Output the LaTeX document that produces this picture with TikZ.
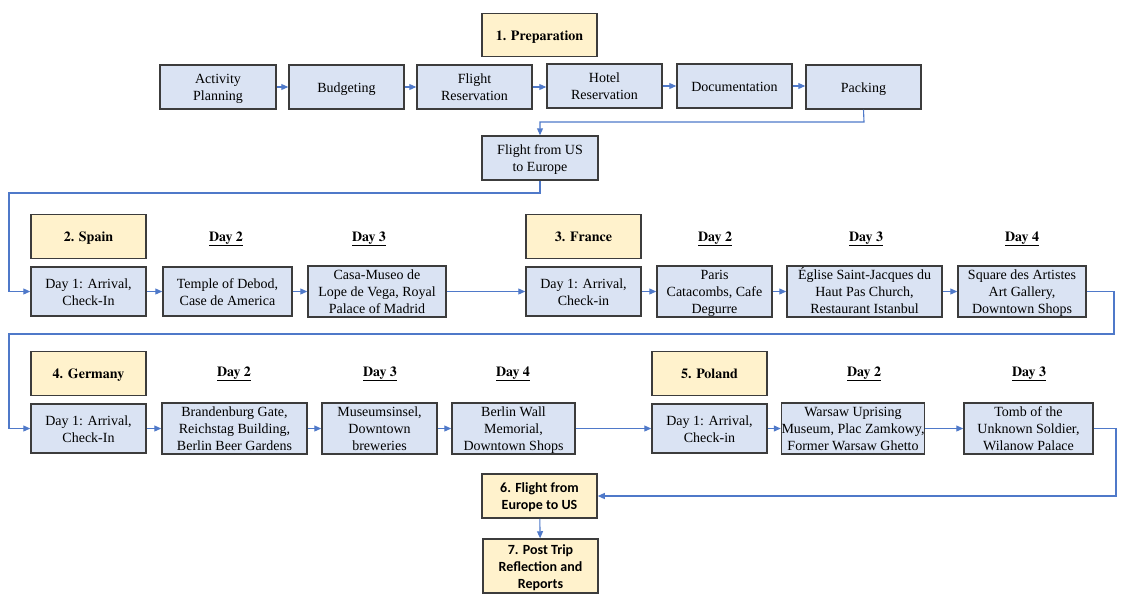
\documentclass[tikz,border=0pt]{standalone}
\usepackage{fontspec}
\setmainfont{Liberation Serif}
\newfontfamily\tb{texgyretermes-bold.otf}
\newfontfamily\calib{Carlito}
\usetikzlibrary{arrows.meta}
\definecolor{boxfill}{HTML}{DAE3F3}
\definecolor{headfill}{HTML}{FFF2CC}
\definecolor{edgecol}{HTML}{3C3C3C}
\definecolor{conncol}{HTML}{4F79C9}
\newcommand\mystrut{\rule[-3.5pt]{0pt}{17pt}}
\newcommand\tx[1]{\mystrut#1\mystrut}
\tikzset{
  base/.style={draw=edgecol, line width=1.5pt, inner sep=0pt, align=center,
    font=\fontsize{14}{17}\selectfont},
  box/.style={base, fill=boxfill},
  head/.style={base, fill=headfill, font=\fontsize{14}{17}\selectfont\tb, yshift=-1.5pt},
  headc/.style={base, fill=headfill, font=\fontsize{14}{17}\selectfont\calib\bfseries},
  daylab/.style={inner sep=0pt, font=\fontsize{14}{17}\selectfont\tb},
  conn/.style={draw=conncol, line width=1.1pt, -{Triangle[length=7pt,width=6pt]}},
}
\begin{document}
\begin{tikzpicture}[x=1pt,y=-1pt]
\useasboundingbox (0,0) rectangle (1123,603);
% Row 1
\node[head, minimum width=115, minimum height=43] (prep) at (539.5,33.5) {\tx{1. Preparation}};
\node[box, minimum width=116, minimum height=44] (ap) at (218,87) {\tx{Activity\\Planning}};
\node[box, minimum width=115, minimum height=44] (bud) at (346.5,87) {\tx{Budgeting}};
\node[box, minimum width=115, minimum height=44] (fr) at (474.5,87) {\tx{Flight\\Reservation}};
\node[box, minimum width=115, minimum height=44] (hr) at (604.5,86) {\tx{Hotel\\Reservation}};
\node[box, minimum width=115, minimum height=44] (doc) at (734.5,86) {\tx{Documentation}};
\node[box, minimum width=115, minimum height=44] (pack) at (863.5,87) {\tx{Packing}};
\node[box, minimum width=116, minimum height=44] (fus) at (540,158) {\tx{Flight from US\\to Europe}};
% Row 2
\node[head, minimum width=115, minimum height=44] (spain) at (88.5,235) {\tx{2. Spain}};
\node[daylab] (sd2) at (226,237) {\tx{\underline{Day 2}}};
\node[daylab] (sd3) at (369,237) {\tx{\underline{Day 3}}};
\node[box, minimum width=115, minimum height=49] (s1) at (88.5,291.5) {\tx{Day 1: Arrival,\\Check-In}};
\node[box, minimum width=129, minimum height=49] (s2) at (227.5,291.5) {\tx{Temple of Debod,\\Case de America}};
\node[box, minimum width=138, minimum height=49] (s3) at (377,291.5) {\tx{Casa-Museo de\\Lope de Vega, Royal\\Palace of Madrid}};
\node[head, minimum width=115, minimum height=44] (france) at (583.5,235) {\tx{3. France}};
\node[daylab] (fd2) at (715,237) {\tx{\underline{Day 2}}};
\node[daylab] (fd3) at (866,237) {\tx{\underline{Day 3}}};
\node[daylab] (fd4) at (1022,237) {\tx{\underline{Day 4}}};
\node[box, minimum width=115, minimum height=49] (f1) at (583.5,291.5) {\tx{Day 1: Arrival,\\Check-in}};
\node[box, minimum width=115, minimum height=49] (f2) at (714.5,291.5) {\tx{Paris\\Catacombs, Cafe\\Degurre}};
\node[box, minimum width=155, minimum height=49] (f3) at (864.5,291.5) {\tx{Église Saint-Jacques du\\Haut Pas Church,\\Restaurant Istanbul}};
\node[box, minimum width=128, minimum height=49] (f4) at (1022,291.5) {\tx{Square des Artistes\\Art Gallery,\\Downtown Shops}};
% Row 3
\node[head, minimum width=115, minimum height=44] (germany) at (88.5,372) {\tx{4. Germany}};
\node[daylab] (gd2) at (234,372) {\tx{\underline{Day 2}}};
\node[daylab] (gd3) at (380,372) {\tx{\underline{Day 3}}};
\node[daylab] (gd4) at (513,372) {\tx{\underline{Day 4}}};
\node[box, minimum width=115, minimum height=49] (g1) at (88.5,428.5) {\tx{Day 1: Arrival,\\Check-In}};
\node[box, minimum width=145, minimum height=49] (g2) at (234.5,428.5) {\tx{Brandenburg Gate,\\Reichstag Building,\\Berlin Beer Gardens}};
\node[box, minimum width=115, minimum height=49] (g3) at (379.5,428.5) {\tx{Museumsinsel,\\Downtown\\breweries}};
\node[box, minimum width=123, minimum height=49] (g4) at (513.5,428.5) {\tx{Berlin Wall\\Memorial,\\Downtown Shops}};
\node[head, minimum width=115, minimum height=44] (poland) at (709.5,372) {\tx{5. Poland}};
\node[daylab] (pd2) at (864,372) {\tx{\underline{Day 2}}};
\node[daylab] (pd3) at (1029,372) {\tx{\underline{Day 3}}};
\node[box, minimum width=115, minimum height=49] (p1) at (709.5,428.5) {\tx{Day 1: Arrival,\\Check-in}};
\node[box, minimum width=142, minimum height=49] (p2) at (853,428.5) {\tx{Warsaw Uprising\\Museum, Plac Zamkowy,\\Former Warsaw Ghetto}};
\node[box, minimum width=129, minimum height=49] (p3) at (1028.5,428.5) {\tx{Tomb of the\\Unknown Soldier,\\Wilanow Palace}};
% Bottom
\node[headc, minimum width=115, minimum height=44] (e6) at (539.5,496) {\tx{6. Flight from\\Europe to US}};
\node[headc, minimum width=115, minimum height=54] (e7) at (540.5,566) {\tx{7. Post Trip\\Reflection and\\Reports}};
% helper coordinates
\coordinate (k1) at (864,122);
\coordinate (k2) at (9,193);
\coordinate (k4) at (1114,334);
\coordinate (k5) at (9,334);
\coordinate (k6) at (1116,496);
% connectors
\draw[conn] (ap) -- (bud);
\draw[conn] (bud) -- (fr);
\draw[conn] (fr.east) -- (hr.west |- fr.east);
\draw[conn] (hr) -- (doc);
\draw[conn] (doc.east) -- (pack.west |- doc.east);
\draw[conn] (pack.south) -- (k1) -| (fus.north);
\draw[conn] (fus.south) |- (k2) |- (s1.west);
\draw[conn] (s1) -- (s2);
\draw[conn] (s2) -- (s3);
\draw[conn] (s3) -- (f1);
\draw[conn] (f1) -- (f2);
\draw[conn] (f2) -- (f3);
\draw[conn] (f3) -- (f4);
\draw[conn] (f4.east) -| (k4) -- (k5) |- (g1.west);
\draw[conn] (g1) -- (g2);
\draw[conn] (g2) -- (g3);
\draw[conn] (g3) -- (g4);
\draw[conn] (g4) -- (p1);
\draw[conn] (p1) -- (p2);
\draw[conn] (p2) -- (p3);
\draw[conn] (p3.east) -| (k6) -- (e6.east);
\draw[conn] (e6) -- (e7);
\end{tikzpicture}
\end{document}
